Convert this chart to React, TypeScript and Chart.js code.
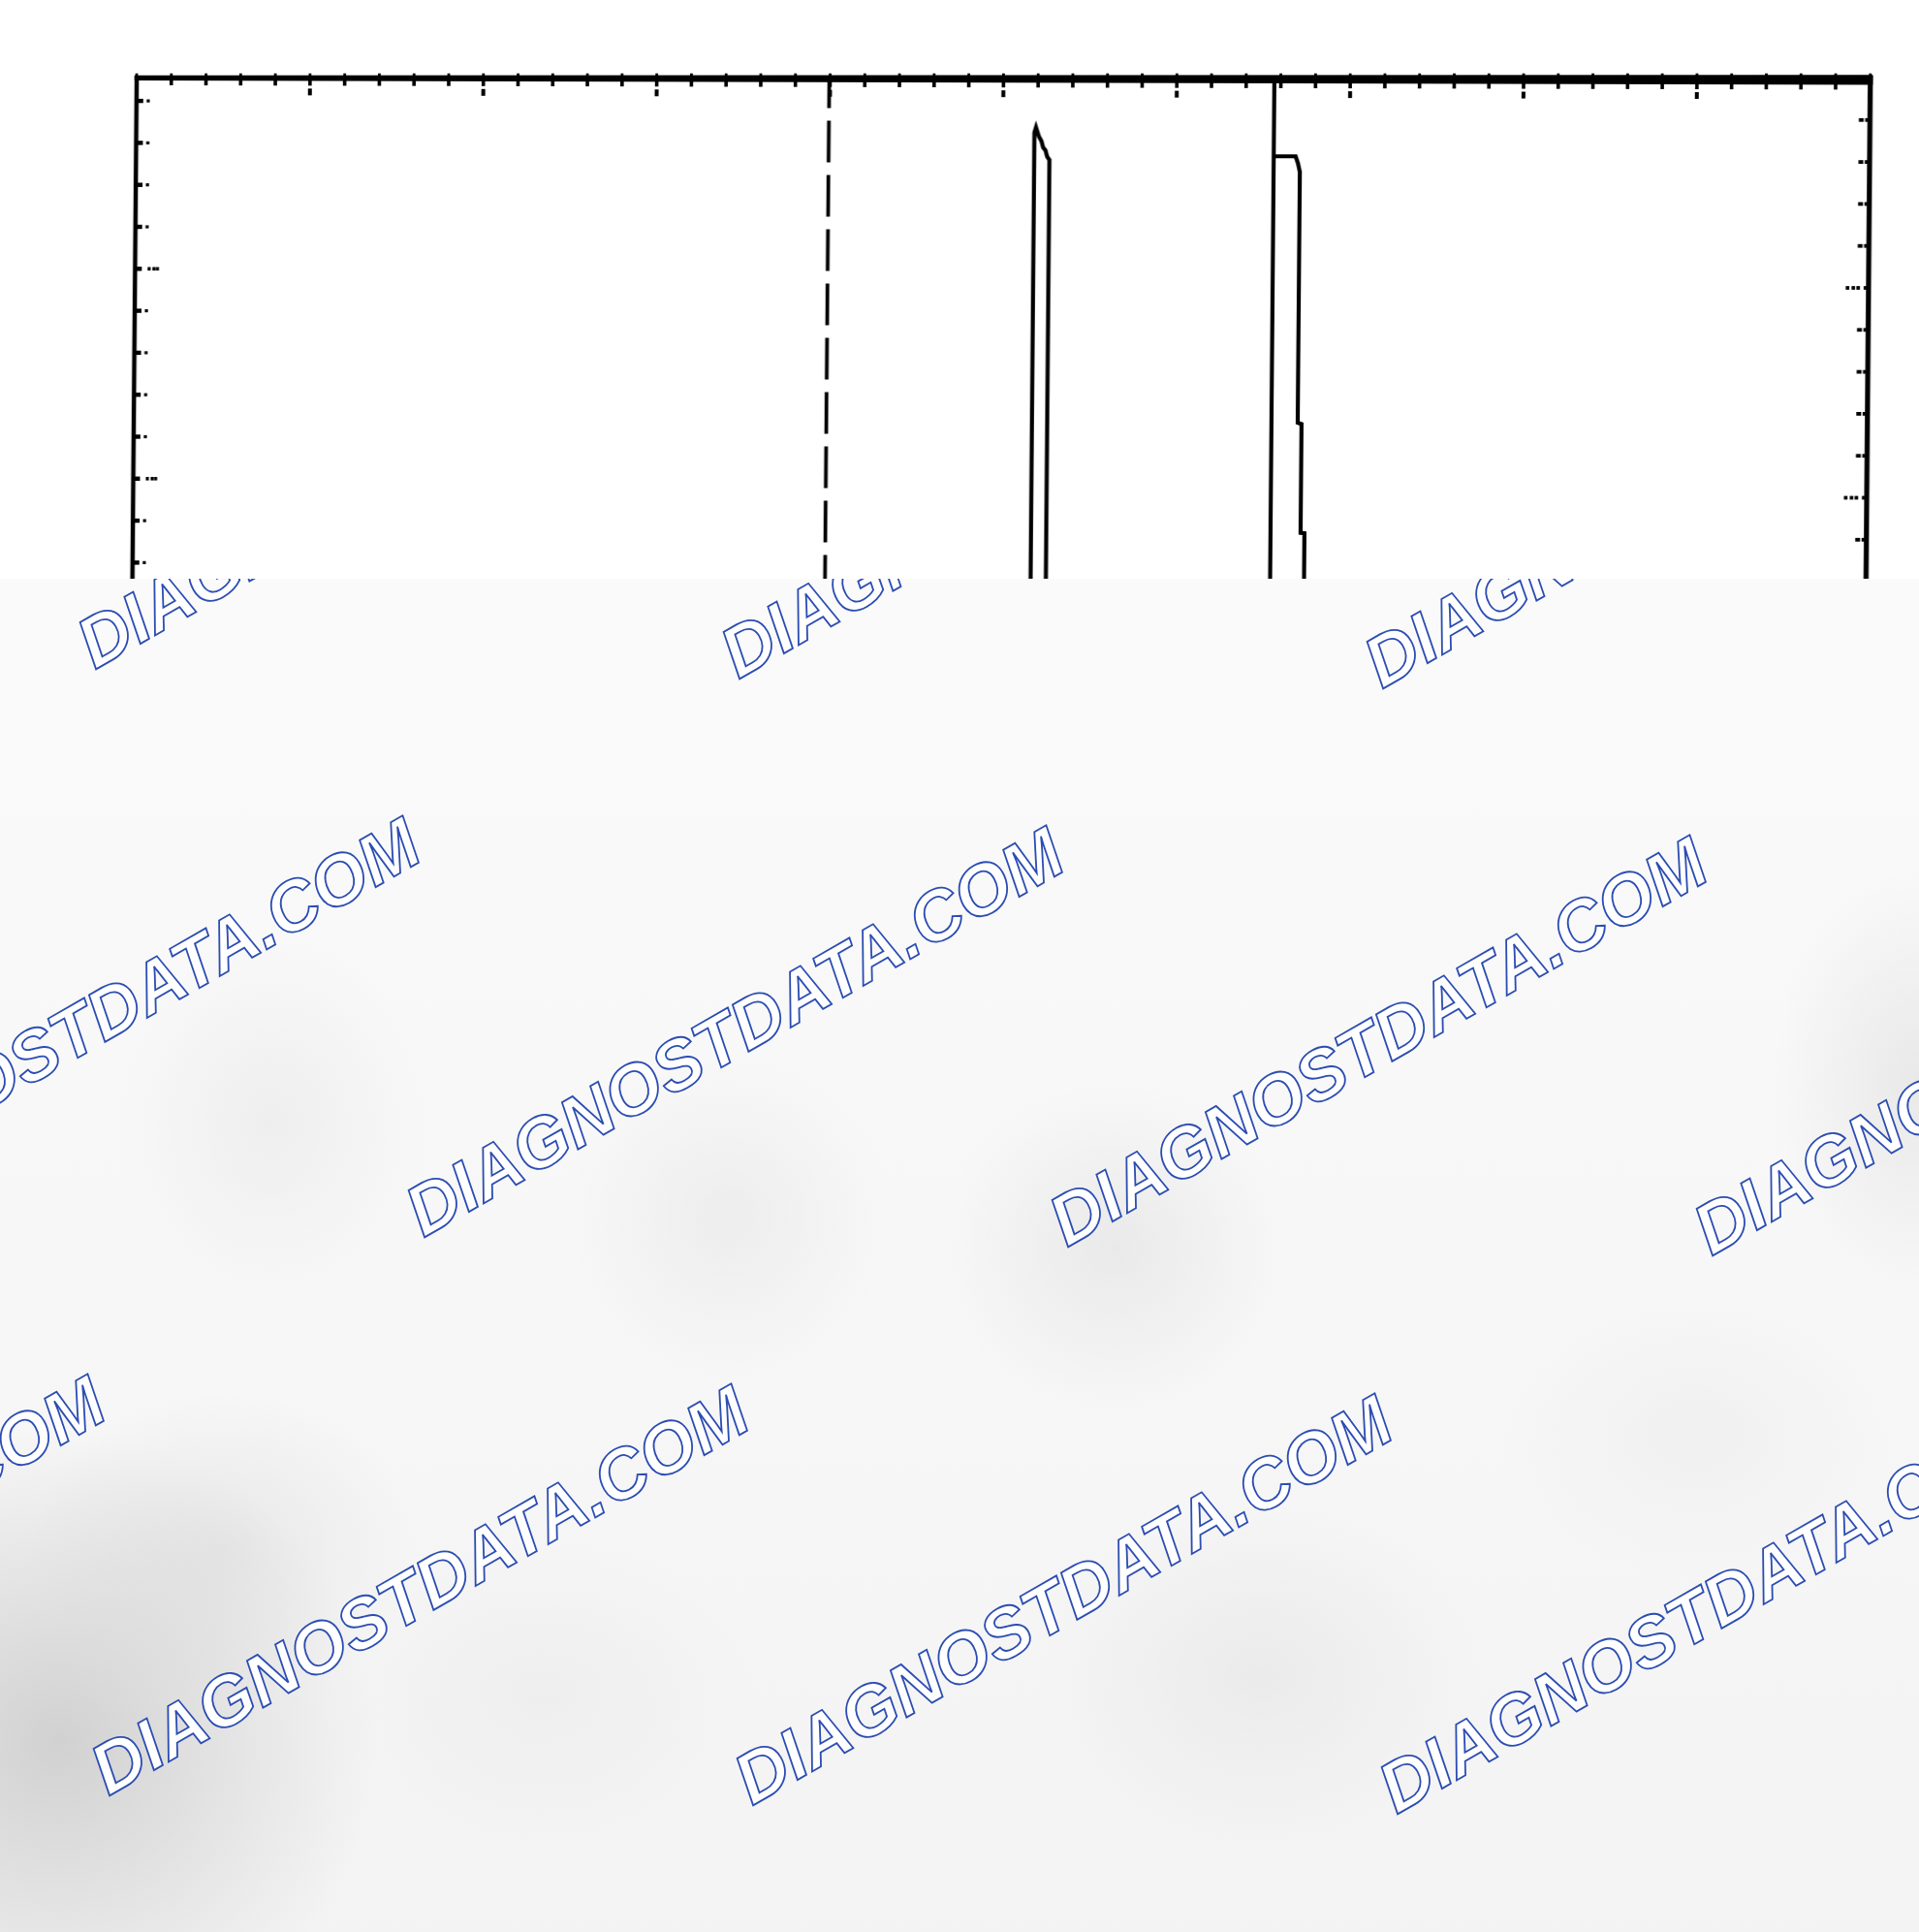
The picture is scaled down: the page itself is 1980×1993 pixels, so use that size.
import React, { useEffect, useRef } from "react";
import { Chart, registerables } from "chart.js";

Chart.register(...registerables);

// ---- axis ranges (chart units) ----
const xRange = [0, 10];
const yRightRange = [0, 8];
const yLeftRange = [-0.091, 7.909];
const minorStep = [0.2];
const majorEvery = [5];

// ---- dashed marker line ----
const markerX = [3.995, 3.995];
const markerY = [8, 0];

// ---- recorded trace (two pulses) ----
const traceX = [0, 5.181, 5.181, 5.19, 5.2, 5.208, 5.222, 5.232, 5.246, 5.256, 5.269, 5.269, 6.5625, 6.5625, 6.5625, 6.689, 6.703, 6.714, 6.714, 6.736, 6.736, 6.758, 6.763, 10];
const traceY = [1, 1, 7.74, 7.765, 7.74, 7.72, 7.7, 7.67, 7.655, 7.625, 7.61, 1, 1, 8, 7.627, 7.627, 7.593, 7.553, 6.358, 6.351, 5.833, 5.831, 1, 1];

// ---- watermark text ----
const watermarkText = ["DIAGNOSTDATA.COM"];

const OVERLAY_TOP = 597;

const framePlugin = {
  id: "scanFrame",
  afterDatasetsDraw(chart: any) {
    const { ctx, chartArea, scales } = chart;
    const { left, right, top, bottom } = chartArea;
    const xs = scales.x;
    const yR = scales.y;
    const yL = scales.yL;
    const step = minorStep[0];
    const maj = majorEvery[0];
    ctx.save();
    ctx.fillStyle = "#000";
    // left / right borders
    ctx.fillRect(left - 2.2, top - 2.5, 4.5, bottom - top + 2.5);
    ctx.fillRect(right - 2.6, top - 2.5, 5.2, bottom - top + 2.5);
    // top border (slightly thicker towards the right, like the scan)
    ctx.beginPath();
    ctx.moveTo(left - 2.2, top - 2.8);
    ctx.lineTo(right + 2.6, top - 3.2);
    ctx.lineTo(right + 2.6, top + 7);
    ctx.lineTo(left - 2.2, top + 2.4);
    ctx.closePath();
    ctx.fill();

    // top ticks
    const nX = Math.round((xRange[1] - xRange[0]) / step);
    for (let i = 0; i <= nX; i++) {
      const v = xRange[0] + i * step;
      const px = xs.getPixelForValue(v);
      const bb = top + 2.4 + ((7 - 2.4) * (px - left)) / (right - left);
      ctx.fillRect(px - 1.8, bb - 1, 3.6, 6);
      ctx.fillRect(px - 1.4, top - 4.8, 2.8, 2.4);
      if (i % maj === 0) {
        ctx.fillRect(px - 2, bb + 8, 4, 7);
      }
    }

    // left ticks
    for (let k = Math.ceil(yLeftRange[0] / step); k * step <= yLeftRange[1] - 0.05; k++) {
      const py = yL.getPixelForValue(k * step);
      ctx.fillRect(left, py - 2.2, 7, 4.4);
      if (k % maj === 0) {
        for (const dx of [13, 18, 21.5]) ctx.fillRect(left + dx, py - 1.8, 3.2, 3.6);
      } else {
        ctx.fillRect(left + 10.5, py - 1.6, 3.2, 3.2);
      }
    }

    // right ticks
    for (let k = Math.ceil(yRightRange[0] / step); k * step <= yRightRange[1] - 0.05; k++) {
      const py = yR.getPixelForValue(k * step);
      ctx.fillRect(right - 5, py - 1.9, 3, 3.8);
      if (k % maj === 0) {
        for (const dx of [23.5, 17.5, 12.5]) ctx.fillRect(right - dx, py - 1.9, 3.6, 3.8);
      } else {
        ctx.fillRect(right - 11.5, py - 1.9, 5, 3.8);
      }
    }
    ctx.restore();
  },
};

const overlayBackground = [
  "radial-gradient(ellipse 330px 320px at 60px 1200px, rgba(205,205,205,0.9), rgba(205,205,205,0) 100%)",
  "radial-gradient(ellipse 200px 160px at 230px 1000px, rgba(218,218,218,0.5), rgba(218,218,218,0) 100%)",
  "radial-gradient(ellipse 160px 190px at 280px 560px, rgba(232,232,232,0.6), rgba(232,232,232,0) 100%)",
  "radial-gradient(ellipse 170px 170px at 750px 660px, rgba(230,230,230,0.6), rgba(230,230,230,0) 100%)",
  "radial-gradient(ellipse 180px 170px at 1150px 690px, rgba(226,226,226,0.65), rgba(226,226,226,0) 100%)",
  "radial-gradient(ellipse 150px 220px at 1980px 520px, rgba(224,224,224,0.65), rgba(224,224,224,0) 100%)",
  "radial-gradient(ellipse 230px 180px at 1300px 1130px, rgba(228,228,228,0.6), rgba(228,228,228,0) 100%)",
  "radial-gradient(ellipse 220px 160px at 560px 1150px, rgba(232,232,232,0.5), rgba(232,232,232,0) 100%)",
  "radial-gradient(ellipse 200px 150px at 1750px 880px, rgba(234,234,234,0.5), rgba(234,234,234,0) 100%)",
  "linear-gradient(180deg, #fafafa 0%, #f7f7f7 55%, #f3f3f3 100%)",
].join(", ");

export default function App() {
  const canvasRef = useRef<HTMLCanvasElement>(null);

  useEffect(() => {
    const canvas = canvasRef.current;
    if (!canvas) return;
    const chart = new Chart(canvas, {
      type: "line",
      data: {
        datasets: [
          {
            label: "Marker",
            data: markerX.map((x, i) => ({ x, y: markerY[i] })),
            borderColor: "#000",
            borderWidth: 3.8,
            borderDash: [43, 13],
            borderDashOffset: 12,
            pointRadius: 0,
            tension: 0,
            xAxisID: "x",
            yAxisID: "y",
          },
          {
            label: "Trace",
            data: traceX.map((x, i) => ({ x, y: traceY[i] })),
            borderColor: "#000",
            borderWidth: 4.2,
            pointRadius: 0,
            tension: 0,
            xAxisID: "x",
            yAxisID: "y",
          },
        ],
      },
      options: {
        responsive: false,
        animation: false,
        devicePixelRatio: 1,
        events: [],
        layout: { padding: { left: 141, top: 80.5, right: 50.2, bottom: 180.5 } },
        plugins: { legend: { display: false }, tooltip: { enabled: false } },
        scales: {
          x: { type: "linear", min: xRange[0], max: xRange[1], display: false },
          y: { type: "linear", position: "right", min: yRightRange[0], max: yRightRange[1], display: false },
          yL: { type: "linear", position: "left", min: yLeftRange[0], max: yLeftRange[1], display: false },
        },
      } as any,
      plugins: [framePlugin],
    });
    return () => chart.destroy();
  }, []);

  // watermark lattice (layout only)
  const marks: { left: number; top: number; key: string }[] = [];
  for (let r = 0; r < 3; r++) {
    for (let c = -1; c < 4; c++) {
      const bx = 97.8 + r * -325 + c * 664.3;
      const by = 691.3 + r * 576 + c * 9.6;
      marks.push({ left: bx, top: by - OVERLAY_TOP - 62, key: `${r}-${c}` });
    }
  }

  return (
    <div style={{ position: "absolute", left: 0, top: 0, width: 1980, height: 1993, overflow: "hidden", background: "#fff" }}>
      <div
        style={{
          position: "absolute",
          left: 0,
          top: 0,
          width: 1980,
          height: 1993,
          transform: "skewX(-0.49deg)",
          transformOrigin: "0px 80px",
        }}
      >
        <canvas ref={canvasRef} width={1980} height={1993} style={{ display: "block", width: 1980, height: 1993 }} />
      </div>
      <div
        style={{
          position: "absolute",
          left: 0,
          top: OVERLAY_TOP,
          width: 1980,
          height: 1993 - OVERLAY_TOP,
          overflow: "hidden",
          background: overlayBackground,
        }}
      >
        {marks.map((m) => (
          <span
            key={m.key}
            style={{
              position: "absolute",
              left: m.left,
              top: m.top,
              fontFamily: '"Liberation Sans", Arial, sans-serif',
              fontWeight: 700,
              fontStyle: "italic",
              fontSize: 73,
              lineHeight: "73px",
              color: "#ffffff",
              WebkitTextStroke: "1.8px #2c4db2",
              whiteSpace: "nowrap",
              transform: "rotate(-29.8deg)",
              transformOrigin: "0px 62px",
            }}
          >
            {watermarkText[0]}
          </span>
        ))}
      </div>
    </div>
  );
}
